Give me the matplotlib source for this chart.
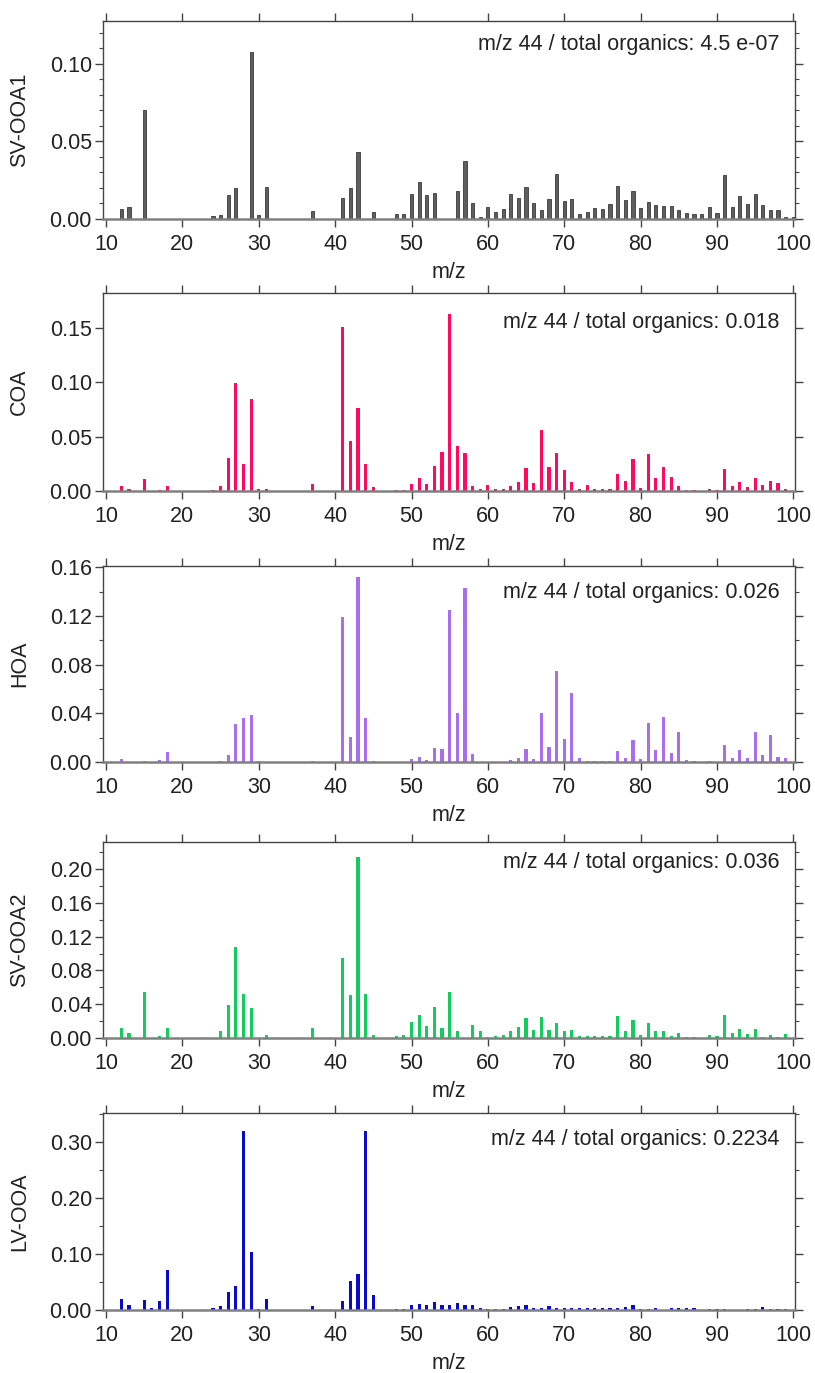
import numpy as np
import matplotlib
matplotlib.use("Agg")
import matplotlib.pyplot as plt
from matplotlib.ticker import MultipleLocator, FormatStrFormatter

plt.rcParams['font.family'] = ['Liberation Sans', 'DejaVu Sans']

mz = np.arange(12, 101)

# values for m/z 12..100, rows of ten
sv_ooa1 = [0.0065, 0.008, 0, 0.070, 0, 0, 0, 0, 0, 0,
           0, 0, 0.002, 0.0025, 0.0157, 0.020, 0, 0.108, 0.0025, 0.0208,
           0, 0, 0, 0, 0, 0.0049, 0, 0, 0, 0.0137,
           0.020, 0.0435, 0, 0.0047, 0, 0, 0.0035, 0.003, 0.016, 0.0237,
           0.0153, 0.0167, 0, 0, 0.018, 0.0377, 0.010, 0.001, 0.0078, 0.0043,
           0.0065, 0.016, 0.0137, 0.0204, 0.010, 0.0055, 0.013, 0.0288, 0.0116, 0.013,
           0.0033, 0.0047, 0.0071, 0.0065, 0.0094, 0.0214, 0.012, 0.018, 0.0071, 0.0108,
           0.009, 0.0084, 0.0082, 0.0055, 0.0039, 0.0035, 0.0033, 0.0075, 0.0039, 0.0286,
           0.0075, 0.0147, 0.0098, 0.016, 0.0092, 0.0061, 0.0055, 0.0014, 0.001]

coa = [0.0046, 0.0018, 0, 0.0108, 0, 0.001, 0.005, 0, 0, 0,
       0, 0, 0.001, 0.0043, 0.030, 0.099, 0.0246, 0.0843, 0.0015, 0.002,
       0, 0, 0, 0, 0, 0.006, 0, 0, 0, 0.151,
       0.0458, 0.076, 0.0246, 0.0034, 0, 0, 0.0005, 0.0005, 0.0065, 0.0117,
       0.0068, 0.0234, 0.036, 0.163, 0.0415, 0.0345, 0.0043, 0.0015, 0.0058, 0.002,
       0.002, 0.0046, 0.0086, 0.021, 0.0073, 0.0557, 0.0223, 0.035, 0.0196, 0.0083,
       0.0015, 0.0055, 0.0018, 0.0015, 0.0015, 0.016, 0.0095, 0.029, 0.003, 0.0336,
       0.012, 0.022, 0.0128, 0.0043, 0.0008, 0.0008, 0, 0.0015, 0.0005, 0.020,
       0.005, 0.0086, 0.004, 0.012, 0.0055, 0.0095, 0.0073, 0.0018, 0]

hoa = [0.0027, 0, 0, 0.0008, 0, 0.0014, 0.008, 0, 0, 0,
       0, 0, 0, 0.0008, 0.006, 0.0313, 0.0363, 0.039, 0.0005, 0,
       0, 0, 0, 0, 0, 0.001, 0, 0, 0, 0.1195,
       0.0209, 0.152, 0.036, 0.001, 0, 0, 0, 0, 0.0025, 0.004,
       0.0016, 0.0115, 0.0107, 0.1245, 0.0405, 0.143, 0.0066, 0, 0, 0,
       0, 0.002, 0.003, 0.011, 0.0027, 0.040, 0.012, 0.0747, 0.019, 0.0569,
       0.003, 0.001, 0.001, 0.001, 0.001, 0.0088, 0.0033, 0.0179, 0.0022, 0.0324,
       0.0096, 0.037, 0.0071, 0.0244, 0.0019, 0.001, 0, 0.001, 0, 0.014,
       0.0033, 0.0102, 0.0033, 0.0247, 0.0055, 0.0222, 0.004, 0.0033, 0]

sv_ooa2 = [0.0118, 0.0063, 0, 0.054, 0, 0.0027, 0.0118, 0, 0, 0,
           0, 0, 0, 0.008, 0.0388, 0.1075, 0.052, 0.035, 0, 0.004,
           0, 0, 0, 0, 0, 0.0118, 0, 0, 0, 0.095,
           0.0514, 0.2137, 0.052, 0.0035, 0, 0, 0.002, 0.003, 0.0188, 0.0267,
           0.014, 0.0365, 0.0114, 0.055, 0.008, 0, 0.0153, 0.0078, 0.001, 0.0024,
           0.0035, 0.008, 0.0133, 0.0235, 0.0094, 0.0243, 0.010, 0.0173, 0.008, 0.0094,
           0.0027, 0.002, 0.0027, 0.0027, 0.0027, 0.0255, 0.008, 0.0208, 0.004, 0.018,
           0.0086, 0.0078, 0.0027, 0.0055, 0.001, 0.001, 0, 0.0035, 0.002, 0.0278,
           0.0063, 0.011, 0.005, 0.011, 0.0016, 0.0035, 0.0016, 0.0047, 0]

lv_ooa = [0.0204, 0.009, 0, 0.0186, 0.003, 0.016, 0.0713, 0, 0, 0,
          0, 0, 0.004, 0.007, 0.033, 0.042, 0.319, 0.103, 0.0024, 0.0204,
          0, 0, 0, 0, 0, 0.0066, 0, 0, 0, 0.016,
          0.051, 0.0635, 0.319, 0.027, 0, 0, 0.0018, 0.0024, 0.009, 0.011,
          0.0084, 0.0144, 0.009, 0.0084, 0.013, 0.0084, 0.009, 0.004, 0.0024, 0.0024,
          0.0024, 0.0054, 0.0066, 0.009, 0.004, 0.003, 0.0066, 0.004, 0.004, 0.003,
          0.003, 0.003, 0.003, 0.003, 0.003, 0.004, 0.0048, 0.0084, 0.0024, 0.0024,
          0.004, 0, 0.003, 0.003, 0.003, 0.003, 0, 0.0025, 0.0025, 0.0025,
          0, 0, 0.0025, 0.0025, 0.0048, 0.0025, 0.0025, 0.0025, 0]

names = ['SV-OOA1', 'COA', 'HOA', 'SV-OOA2', 'LV-OOA']
series = [sv_ooa1, coa, hoa, sv_ooa2, lv_ooa]
ratios = ['4.5 e-07', '0.018', '0.026', '0.036', '0.2234']
colors = ['#5e5e5e', '#ff0a5e', '#a96ded', '#14cc5e', '#0a0acc']

# layout (pixels in the 815x1373 figure)
W, H = 815, 1373
tops = [21, 293, 566, 842, 1113]
bottoms = [219, 491, 762, 1038, 1310]
ytops = [0.1277, 0.182, 0.161, 0.232, 0.352]
majors = [0.05, 0.05, 0.04, 0.04, 0.10]
minors = [0.01, None, 0.02, 0.02, 0.05]
text_y = [0.879, 0.853, 0.867, 0.893, 0.863]

fig = plt.figure(figsize=(W / 100, H / 100), dpi=100)

for i in range(5):
    ax = fig.add_axes([103 / W, 1 - bottoms[i] / H, 692 / W, (bottoms[i] - tops[i]) / H])
    ax.bar(mz, series[i], width=0.42, color=colors[i],
           edgecolor='#3a3a3a' if i == 0 else colors[i], linewidth=0.6 if i == 0 else 0)
    ax.set_xlim(9.6, 100.22)
    ax.set_ylim(0, ytops[i])
    ax.xaxis.set_major_locator(MultipleLocator(10))
    ax.yaxis.set_major_locator(MultipleLocator(majors[i]))
    if minors[i]:
        ax.yaxis.set_minor_locator(MultipleLocator(minors[i]))
    ax.yaxis.set_major_formatter(FormatStrFormatter('%.2f'))
    ax.tick_params(axis='both', which='major', direction='out', length=6, width=1,
                   color='#444444', labelsize=15.5, labelcolor='#222222', pad=2)
    ax.tick_params(axis='x', which='major', pad=5)
    ax.tick_params(axis='y', which='minor', direction='out', length=3, width=0.8,
                   color='#444444')
    ax.tick_params(axis='x', top=True, labeltop=False)
    ax.tick_params(axis='y', right=True, labelright=False, which='both')
    for side in ['left', 'right', 'top']:
        ax.spines[side].set_color('#444444')
        ax.spines[side].set_linewidth(1.0)
    ax.spines['bottom'].set_color('#808080')
    ax.spines['bottom'].set_linewidth(1.8)
    ax.set_xlabel('m/z', fontsize=15.5, color='#222222', labelpad=5)
    ax.set_ylabel(names[i], fontsize=15.5, color='#222222')
    ax.yaxis.set_label_coords(-0.105, 0.5)
    ax.text(0.978, text_y[i], 'm/z 44 / total organics: ' + ratios[i],
            transform=ax.transAxes, ha='right', va='center', fontsize=15.5, color='#222222')

fig.savefig('out.png', dpi=100)
